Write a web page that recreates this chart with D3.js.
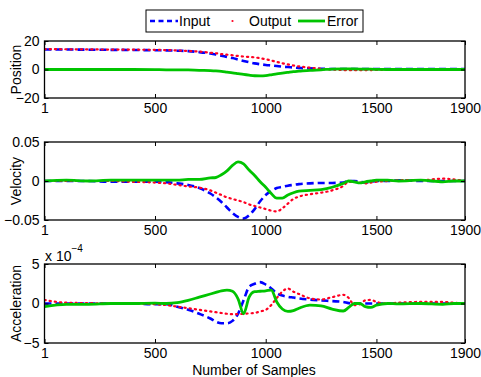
<!DOCTYPE html>
<html><head><meta charset="utf-8">
<script src="https://cdn.jsdelivr.net/npm/d3@7"></script>
<style>
html,body{margin:0;padding:0;background:#fff;}
svg{display:block;font-family:"Liberation Sans",Arial,Helvetica,sans-serif;}
</style></head>
<body>
<svg id="c" width="481" height="377"></svg>
<script>
const samples = [1,100,200,300,400,500,550,600,650,700,750,775,800,825,850,875,900,925,950,975,1000,1025,1050,1075,1100,1125,1150,1200,1250,1300,1350,1375,1400,1425,1450,1475,1500,1550,1600,1700,1800,1850,1900];
const xTicks = [1,500,1000,1500,1900];
const seriesNames = ["Input","Output","Error"];

const posInput  = [14,14,13.9,13.8,13.7,13.5,13.4,13.2,12.9,12.2,11.2,10.5,9.7,8.8,8,7,6,5.1,4.3,3.7,3.2,2.8,2.4,2,1.7,1.4,1.1,0.8,0.5,0.3,0.3,0.3,0.3,0.3,0.3,0.3,0.3,0.3,0.3,0.3,0.3,0.3,0.3];
const posOutput = [14.3,14.2,14.1,14,13.9,13.8,13.6,13.4,13,12.6,11.8,11.4,10.8,10.4,10,9.5,9.1,8.8,8.5,7.9,7.2,6.3,5.3,4.4,3.6,2.8,2.2,1.3,0.5,0,-0.4,-0.5,-0.5,-0.5,-0.5,-0.4,-0.3,-0.2,-0.1,0,0,0,0];
const posError  = [0,0,0,0,0,-0.1,-0.2,-0.2,-0.3,-0.6,-0.8,-1,-1.3,-1.8,-2.3,-2.9,-3.5,-4,-4.4,-4.5,-4.3,-3.7,-3,-2.5,-2,-1.5,-1.2,-0.6,-0.2,0.3,0.5,0.5,0.4,0.3,0.2,0.2,0.1,0,0,0,0,0,0];
const posTicks = [-20,0,20];

const velInput  = [0,0,0,-0.001,-0.001,-0.001,-0.0015,-0.003,-0.005,-0.009,-0.016,-0.021,-0.027,-0.034,-0.041,-0.046,-0.048,-0.044,-0.036,-0.026,-0.018,-0.013,-0.009,-0.0075,-0.006,-0.005,-0.004,-0.003,-0.0025,-0.0025,-0.002,0,0,-0.001,-0.002,-0.001,0,0,0.001,0,0,0,0];
const velOutput = [0,0,0,0,-0.001,-0.002,-0.003,-0.005,-0.007,-0.0085,-0.012,-0.015,-0.018,-0.021,-0.023,-0.025,-0.027,-0.03,-0.032,-0.034,-0.036,-0.038,-0.039,-0.035,-0.029,-0.023,-0.02,-0.017,-0.015,-0.012,-0.0064,-0.001,-0.001,-0.002,-0.003,-0.002,-0.001,0,0.001,0.001,0.003,0.002,0];
const velError  = [0,0.001,0,0.001,0.001,0.001,0.001,0.001,0.002,0.002,0.004,0.0045,0.008,0.013,0.02,0.0245,0.022,0.014,0.007,-0.001,-0.008,-0.016,-0.022,-0.022,-0.018,-0.015,-0.013,-0.012,-0.011,-0.008,-0.003,0,-0.001,-0.0025,-0.001,0,0.001,0.001,0,0.001,-0.001,0,0];
const velTicks = [-0.05,0,0.05];

const accExponent = -4;
const accInput  = [0,0,0,0,0,-0.1,-0.1,-0.4,-0.8,-1.3,-1.9,-2.3,-2.5,-2.5,-2.2,-1.3,0.4,2.1,2.5,2.7,2.4,1.9,1.3,1,0.85,0.75,0.65,0.5,0.4,0.3,0.2,0.05,0,0,0,0,0,0,0,0,0,0,0];
const accOutput = [0.45,0.1,0.05,0,0,-0.1,-0.2,-0.4,-0.6,-0.8,-1,-1.1,-1.2,-1.3,-1.35,-1.35,-1.3,-1.25,-1.2,-1,-0.8,-0.2,0.7,1.5,1.9,1.5,1.2,0.65,0.5,0.8,1.1,0.7,-0.2,-0.1,0.4,0.45,0.2,0,0.1,0.2,0.2,0.1,0];
const accError  = [-0.4,-0.1,-0.1,0,0,0.05,0,0.1,0.4,0.8,1.2,1.4,1.6,1.7,1.55,0.6,-1.3,0.8,1.5,1.55,1.6,1.7,0.2,-0.7,-1,-0.9,-0.6,-0.2,-0.3,-0.7,-0.95,-0.5,0,0,-0.4,-0.5,-0.2,0,-0.05,0,-0.1,0,0];
const accTicks = [-5,0,5];

const FS = 14;
const svg = d3.select("#c");
const L = 44.5, R = 465;
const x = d3.scaleLinear().domain([1,1900]).range([L,R]);

const styles = [
  {color:"#0000ff", width:2.6, dash:"7,4"},
  {color:"#ff0022", width:2.2, dash:"1.2,4", cap:"round"},
  {color:"#00c400", width:2.8, dash:null}
];

const minus = d=>d<0?"\u2212"+(-d):String(d);
const panels = [
  {label:"Position", top:41, bottom:98, domain:[-20,20], ticks:posTicks, fmt:minus, data:[posInput,posOutput,posError]},
  {label:"Velocity", top:142, bottom:220, domain:[-0.05,0.05], ticks:velTicks, fmt:minus, data:[velInput,velOutput,velError]},
  {label:"Acceleration", top:264, bottom:343, domain:[-5,5], ticks:accTicks, fmt:minus, data:[accInput,accOutput,accError]}
];

panels.forEach((p,pi)=>{
  const y = d3.scaleLinear().domain(p.domain).range([p.bottom,p.top]);
  const g = svg.append("g");
  const clipId = "clip"+pi;
  svg.append("clipPath").attr("id",clipId).append("rect")
    .attr("x",L).attr("y",p.top).attr("width",R-L).attr("height",p.bottom-p.top);
  const lines = g.append("g").attr("clip-path",`url(#${clipId})`);
  const line = d3.line().x((d,i)=>x(samples[i])).y(d=>y(d)).curve(d3.curveMonotoneX);
  p.data.forEach((arr,si)=>{
    const s = styles[si];
    lines.append("path").attr("d",line(arr)).attr("fill","none")
      .attr("stroke",s.color).attr("stroke-width",s.width)
      .attr("stroke-dasharray",s.dash).attr("stroke-linecap",s.cap||"butt");
  });
  const axB = d3.axisBottom(x).tickValues(xTicks).tickSizeInner(-4).tickSizeOuter(0).tickPadding(5).tickFormat(d3.format("d"));
  const axT = d3.axisTop(x).tickValues(xTicks).tickSizeInner(-4).tickSizeOuter(0).tickFormat("");
  const axL = d3.axisLeft(y).tickValues(p.ticks).tickSizeInner(-4).tickSizeOuter(0).tickPadding(5).tickFormat(p.fmt);
  const axR = d3.axisRight(y).tickValues(p.ticks).tickSizeInner(-4).tickSizeOuter(0).tickFormat("");
  [[axB,`translate(0,${p.bottom})`],[axT,`translate(0,${p.top})`],[axL,`translate(${L},0)`],[axR,`translate(${R},0)`]].forEach(([a,t])=>{
    const ag = g.append("g").attr("transform",t).call(a);
    ag.select(".domain").remove();
    ag.selectAll("line").attr("stroke","#000").attr("stroke-width",1);
    ag.selectAll("text").attr("font-size",FS).attr("fill","#000").attr("font-family","Liberation Sans, Arial, sans-serif");
  });
  g.append("rect").attr("x",L).attr("y",p.top).attr("width",R-L).attr("height",p.bottom-p.top)
    .attr("fill","none").attr("stroke","#000").attr("stroke-width",1.3);
  g.append("text").attr("transform",`translate(16,${(p.top+p.bottom)/2}) rotate(-90)`)
    .attr("text-anchor","middle").attr("dominant-baseline","central").attr("font-size",FS).text(p.label);
});

const ex = svg.append("text").attr("x",45).attr("y",261).attr("font-size",FS);
ex.append("tspan").text("x 10");
ex.append("tspan").attr("dy",-9).attr("font-size",10).text("\u2212" + (-accExponent));

svg.append("text").attr("x",254).attr("y",375).attr("text-anchor","middle").attr("font-size",FS).text("Number of Samples");

const lg = svg.append("g");
lg.append("rect").attr("x",146).attr("y",10).attr("width",217).attr("height",22).attr("fill","#fff").attr("stroke","#000").attr("stroke-width",1);
const legendItems = [
  {lx1:150, lx2:178, tx:179},
  {lx1:232, lx2:233, tx:249},
  {lx1:298, lx2:325, tx:327}
];
seriesNames.forEach((name,i)=>{
  const s = styles[i], it = legendItems[i];
  if(i===1){
    lg.append("circle").attr("cx",it.lx1+0.5).attr("cy",21).attr("r",1.1).attr("fill",s.color);
  } else {
    lg.append("line").attr("x1",it.lx1).attr("x2",it.lx2).attr("y1",21).attr("y2",21)
      .attr("stroke",s.color).attr("stroke-width",s.width).attr("stroke-dasharray",i===0?"5,3.5":null);
  }
  lg.append("text").attr("x",it.tx).attr("y",21).attr("dominant-baseline","central").attr("font-size",FS).text(name);
});
</script>
</body></html>
